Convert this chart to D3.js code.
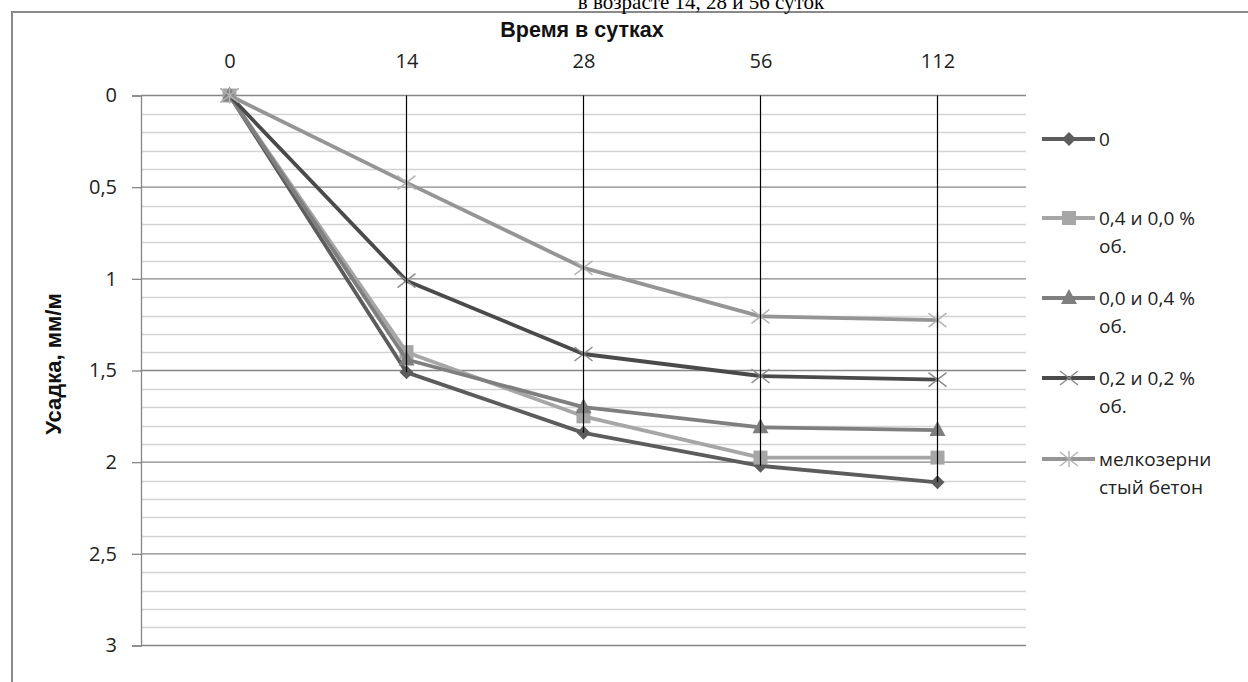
<!DOCTYPE html>
<html><head><meta charset="utf-8">
<script src="https://cdn.jsdelivr.net/npm/d3@7"></script>
<style>
html,body{margin:0;padding:0;background:#fff;overflow:hidden}
svg{display:block}
</style></head>
<body>
<svg id="c" width="1248" height="682"></svg>
<script>
// ---- data ----
const categories = ["0", "14", "28", "56", "112"];
const seriesNames = [["0"], ["0,4 и 0,0 %", "об."], ["0,0 и 0,4 %", "об."], ["0,2 и 0,2 %", "об."], ["мелкозерни", "стый бетон"]];
const s0 = [0, 1.51, 1.84, 2.02, 2.11];
const s1 = [0, 1.40, 1.75, 1.975, 1.975];
const s2 = [0, 1.44, 1.70, 1.81, 1.825];
const s3 = [0, 1.01, 1.41, 1.53, 1.55];
const s4 = [0, 0.475, 0.94, 1.205, 1.225];
const yTicks = [0, 0.5, 1, 1.5, 2, 2.5, 3];
const titleText = "в возрасте 14, 28 и 56 суток";
const xTitle = "Время в сутках";
const yTitle = "Усадка, мм/м";

const seriesValues = [s0, s1, s2, s3, s4];
const styles = [
  {color:"#5c5c5c", mk:"diamond", mcol:"#5c5c5c"},
  {color:"#a6a6a6", mk:"square", mcol:"#a6a6a6"},
  {color:"#7f7f7f", mk:"triangle", mcol:"#7f7f7f"},
  {color:"#4a4a4a", mk:"x", mcol:"#8c8c8c"},
  {color:"#959595", mk:"star", mcol:"#b4b4b4"}
];

const svg = d3.select("#c");
const L = 141, R = 1026, T = 95.5, B = 645.5;
const x = d3.scalePoint().domain(categories).range([L, R]).padding(0.5);
const y = d3.scaleLinear().domain([0, 3]).range([T, B]);
const fmt = v => String(v).replace(".", ",");

// outer frame
svg.append("rect").attr("x", 12).attr("y", 12).attr("width", 1300).attr("height", 700)
  .attr("fill", "none").attr("stroke", "#8a8a8a").attr("stroke-width", 2);

// top clipped title (cut off at the top edge, as in the source)
svg.append("text").attr("x", 701).attr("y", 9).attr("text-anchor", "middle")
  .attr("font-family", "'Liberation Serif','Times New Roman',serif").attr("font-size", 21)
  .attr("fill", "#000").text(titleText);

// minor gridlines
const minor = d3.range(0, 3.0001, 0.1).map(v => +v.toFixed(2));
svg.append("g").selectAll("line").data(minor.filter(v => Math.abs(v*2 - Math.round(v*2)) > 1e-6)).join("line")
  .attr("x1", L).attr("x2", R).attr("y1", d => Math.round(y(d)) + 0.5).attr("y2", d => Math.round(y(d)) + 0.5)
  .attr("stroke", "#d4d4d4").attr("stroke-width", 1.3);

// y axis (left) with major gridlines
const yAxis = d3.axisLeft(y).tickValues(yTicks).tickFormat(fmt).tickSize(9).tickPadding(15);
const gy = svg.append("g").attr("transform", `translate(${L},0)`).call(yAxis);
gy.select(".domain").attr("stroke", "#868686").attr("stroke-width", 1.3);
gy.selectAll(".tick line").attr("stroke", "#868686").attr("stroke-width", 1.3);
gy.selectAll(".tick text").attr("font-family", "'Open Sans',sans-serif").attr("font-size", 20).attr("fill", "#222");
svg.append("g").selectAll("line").data(yTicks).join("line")
  .attr("x1", L).attr("x2", R).attr("y1", d => y(d)).attr("y2", d => y(d))
  .attr("stroke", "#868686").attr("stroke-width", 1.3);

// top category axis labels
const xAxis = d3.axisTop(x).tickSize(0).tickPadding(28);
const gx = svg.append("g").attr("transform", `translate(0,${T})`).call(xAxis);
gx.select(".domain").remove();
gx.selectAll(".tick text").attr("font-family", "'Open Sans',sans-serif").attr("font-size", 20).attr("fill", "#222");

// axis titles
svg.append("text").attr("x", 582).attr("y", 37).attr("text-anchor", "middle")
  .attr("font-family", "'Liberation Sans Narrow','Liberation Sans',Arial,sans-serif").attr("font-weight", "bold")
  .attr("font-size", 21.5).attr("fill", "#111").text(xTitle);
svg.append("text").attr("transform", "translate(61,364) rotate(-90)").attr("text-anchor", "middle")
  .attr("font-family", "'Liberation Sans Narrow','Liberation Sans',Arial,sans-serif").attr("font-weight", "bold")
  .attr("font-size", 22).attr("fill", "#111").text(yTitle);

// markers
function marker(g, type, cx, cy, col) {
  if (type === "diamond") {
    g.append("path").attr("d", `M${cx},${cy-7}L${cx+7},${cy}L${cx},${cy+7}L${cx-7},${cy}Z`).attr("fill", col);
  } else if (type === "square") {
    g.append("rect").attr("x", cx-7).attr("y", cy-7).attr("width", 14).attr("height", 14).attr("fill", col);
  } else if (type === "triangle") {
    g.append("path").attr("d", `M${cx},${cy-9}L${cx+8},${cy+6}L${cx-8},${cy+6}Z`).attr("fill", col);
  } else if (type === "x") {
    g.append("path").attr("d", `M${cx-9},${cy-7}L${cx+9},${cy+7}M${cx-9},${cy+7}L${cx+9},${cy-7}`)
      .attr("stroke", col).attr("stroke-width", 1.5).attr("fill", "none");
  } else if (type === "star") {
    g.append("path").attr("d", `M${cx-9},${cy-7}L${cx+9},${cy+7}M${cx-9},${cy+7}L${cx+9},${cy-7}M${cx},${cy-8}L${cx},${cy+8}`)
      .attr("stroke", col).attr("stroke-width", 1.5).attr("fill", "none");
  }
}

// series
const line = d3.line().x((d, i) => x(categories[i])).y(d => y(d));
const gs = svg.append("g");
seriesValues.forEach((vals, si) => {
  const st = styles[si];
  gs.append("path").datum(vals).attr("d", line).attr("fill", "none")
    .attr("stroke", st.color).attr("stroke-width", 3.8).attr("stroke-linejoin", "round");
  vals.forEach((v, i) => marker(gs, st.mk, x(categories[i]), y(v), st.mcol));
});

// drop lines
svg.append("g").selectAll("line").data(categories).join("line")
  .attr("x1", d => x(d)).attr("x2", d => x(d))
  .attr("y1", T).attr("y2", (d, i) => y(d3.max(seriesValues, s => s[i])))
  .attr("stroke", "#000").attr("stroke-width", 1.2);

// legend
const legY = [139, 218, 298, 378, 459];
const lg = svg.append("g");
seriesNames.forEach((lines, i) => {
  const st = styles[i];
  const cy = legY[i];
  lg.append("line").attr("x1", 1042).attr("x2", 1095).attr("y1", cy).attr("y2", cy)
    .attr("stroke", st.color).attr("stroke-width", 3.8);
  marker(lg, st.mk, 1069, cy, st.mcol);
  lines.forEach((t, k) => {
    lg.append("text").attr("x", 1099).attr("y", cy + 7 + k * 28)
      .attr("font-family", "'Open Sans',sans-serif").attr("font-size", 19).attr("fill", "#222").text(t);
  });
});
</script>
</body></html>
